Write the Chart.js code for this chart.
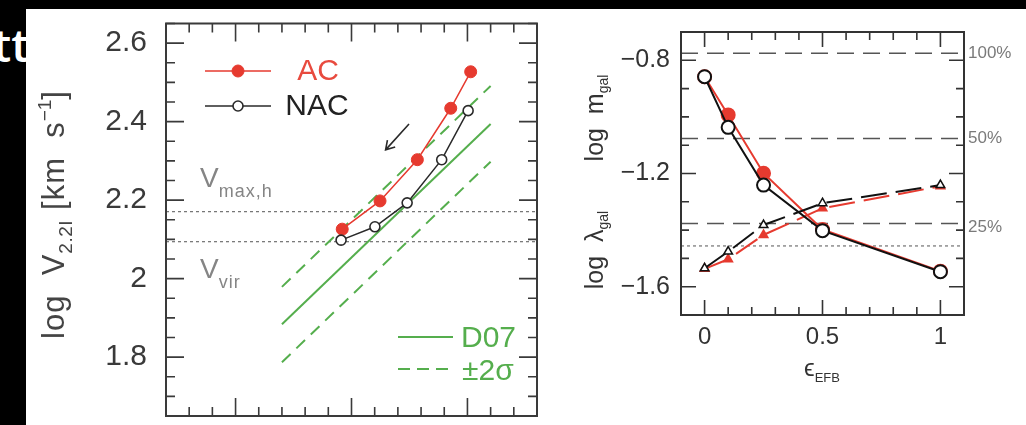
<!DOCTYPE html>
<html>
<head>
<meta charset="utf-8">
<script src="https://cdn.jsdelivr.net/npm/chart.js@4.4.1/dist/chart.umd.min.js"></script>
<style>
  html, body { margin: 0; padding: 0; background: #000; width: 1026px; height: 425px; overflow: hidden; }
  #sheet { position: absolute; left: 26px; top: 9px; width: 1000px; height: 416px; background: #fff; }
  #cut { position: absolute; left: -7px; top: 21px; font: 600 46px "Open Sans", sans-serif; color: #fff; line-height: 1; }
  #left { position: absolute; left: 0; top: 0; }
  #right { position: absolute; left: 560px; top: 0; }
</style>
</head>
<body>
<div id="sheet"></div>
<div id="cut">tt</div>
<canvas id="left" width="560" height="425"></canvas>
<canvas id="right" width="466" height="425"></canvas>
<script>
// ---------- left panel: log V2.2I against the galaxy axis ----------
const acX  = [10.460, 10.623, 10.784, 10.928, 11.014];
const acV  = [2.126, 2.198, 2.303, 2.434, 2.527];
const nacX = [10.455, 10.601, 10.740, 10.889, 11.003];
const nacV = [2.098, 2.132, 2.193, 2.303, 2.428];
const d07X   = [10.2, 11.1];
const d07V   = [1.884, 2.394];
const d07Hi  = [1.979, 2.491];
const d07Lo  = [1.787, 2.298];
const vMaxH = 2.1705;
const vVir  = 2.094;
const arrowX = [10.748, 10.647];
const arrowV = [2.394, 2.328];
const leftYTicks  = [1.8, 2.0, 2.2, 2.4, 2.6];
const leftYLabels = ['1.8', '2', '2.2', '2.4', '2.6'];

// ---------- right panel: galaxy mass / spin against feedback efficiency ----------
const eps     = [0, 0.1, 0.25, 0.5, 1];
const mGalAC  = [-0.858, -0.993, -1.199, -1.398, -1.545];
const mGalNAC = [-0.858, -1.037, -1.241, -1.402, -1.547];
const lamAC   = [-1.537, -1.503, -1.417, -1.323, -1.245];
const lamNAC  = [-1.535, -1.476, -1.382, -1.305, -1.241];
const fracLevels = [-0.775, -1.076, -1.377];
const fracLabels = ['100%', '50%', '25%'];
const dotLevel   = -1.456;
const rightXTicks  = [0, 0.5, 1];
const rightXLabels = ['0', '0.5', '1'];
const rightYTicks  = [-1.6, -1.2, -0.8];
const rightYLabels = ['\u22121.6', '\u22121.2', '\u22120.8'];

const RED = '#e63a2f', GREEN = '#55ae4d', INK = '#2a2a2a', GREY = '#858585';
const FONT = '"Liberation Sans", Arial, sans-serif';

const pts  = (xs, ys) => xs.map((x, i) => ({ x, y: ys[i] }));
const flat = (y, x0, x1) => [{ x: x0, y }, { x: x1, y }];

function tickSet(min, max, step) {
  const out = [];
  const k0 = Math.ceil(min / step - 1e-6), k1 = Math.floor(max / step + 1e-6);
  for (let k = k0; k <= k1; k++) out.push(+(k * step).toFixed(6));
  return out;
}
const isMajor = (v, step) => Math.abs(v / step - Math.round(v / step)) < 1e-6;

// text with sub/superscripts, optionally rotated
function drawRich(ctx, parts, x, y, align, rot, color) {
  ctx.save();
  ctx.translate(x, y);
  if (rot) ctx.rotate(rot);
  ctx.fillStyle = color;
  ctx.textBaseline = 'alphabetic';
  ctx.textAlign = 'left';
  let total = 0;
  const widths = parts.map(p => {
    ctx.font = `${p.size}px ${FONT}`;
    ctx.letterSpacing = (p.ls || 0) + 'px';
    const w = ctx.measureText(p.t).width + (p.gap || 0);
    total += w;
    return w;
  });
  let pos = align === 'center' ? -total / 2 : (align === 'right' ? -total : 0);
  parts.forEach((p, i) => {
    ctx.font = `${p.size}px ${FONT}`;
    ctx.letterSpacing = (p.ls || 0) + 'px';
    ctx.fillText(p.t, pos, p.dy || 0);
    pos += widths[i];
  });
  ctx.restore();
}

// closed frame with inward ticks on all four sides
const framePlugin = {
  id: 'frame',
  afterDatasetsDraw(chart, args, o) {
    const { ctx, chartArea: a, scales: { x, y } } = chart;
    ctx.save();
    ctx.strokeStyle = o.color;
    ctx.lineWidth = o.tickWidth;
    ctx.beginPath();
    tickSet(x.min, x.max, o.xMinor).forEach(v => {
      const p = x.getPixelForValue(v);
      const L = isMajor(v, o.xMajor) ? o.major : o.minor;
      ctx.moveTo(p, a.bottom); ctx.lineTo(p, a.bottom - L);
      ctx.moveTo(p, a.top);    ctx.lineTo(p, a.top + L);
    });
    tickSet(y.min, y.max, o.yMinor).forEach(v => {
      const p = y.getPixelForValue(v);
      const L = isMajor(v, o.yMajor) ? o.major : o.minor;
      ctx.moveTo(a.left, p);  ctx.lineTo(a.left + L, p);
      ctx.moveTo(a.right, p); ctx.lineTo(a.right - L, p);
    });
    ctx.stroke();
    ctx.lineWidth = o.width;
    ctx.strokeRect(a.left, a.top, a.right - a.left, a.bottom - a.top);
    ctx.restore();
  }
};

// rich-text annotations supplied per chart
const notesPlugin = {
  id: 'notes',
  afterDraw(chart, args, o) {
    (o.items || []).forEach(n => drawRich(chart.ctx, n.parts, n.x, n.y, n.align, n.rot, n.color));
  }
};

function zeroPad(s) { s.paddingLeft = s.paddingRight = s.paddingTop = s.paddingBottom = 0; }

// ================= left chart =================
const leftLegendPlugin = {
  id: 'leftLegend',
  afterDraw(chart) {
    const { ctx, scales: { x, y } } = chart;
    const ds = chart.data.datasets;
    ctx.save();
    // AC / NAC
    const rows = [
      { d: ds[1], y: 71, tx: 318 },
      { d: ds[0], y: 106, tx: 317 }
    ];
    rows.forEach(r => {
      ctx.strokeStyle = r.d.borderColor; ctx.lineWidth = 1.5;
      ctx.beginPath(); ctx.moveTo(205, r.y); ctx.lineTo(271, r.y); ctx.stroke();
      ctx.beginPath(); ctx.arc(238, r.y, r.d.pointRadius, 0, Math.PI * 2);
      ctx.fillStyle = r.d.pointBackgroundColor; ctx.fill();
      ctx.lineWidth = r.d.pointBorderWidth; ctx.strokeStyle = r.d.pointBorderColor; ctx.stroke();
      ctx.fillStyle = r.d.legendColor;
      ctx.font = `30px ${FONT}`; ctx.textAlign = 'center'; ctx.textBaseline = 'middle';
      ctx.fillText(r.d.label, r.tx, r.y + 1);
    });
    // D07 / ±2σ
    ctx.strokeStyle = GREEN; ctx.lineWidth = 2;
    ctx.beginPath(); ctx.moveTo(398, 337); ctx.lineTo(453, 337); ctx.stroke();
    ctx.setLineDash([12, 7]);
    ctx.beginPath(); ctx.moveTo(398, 369); ctx.lineTo(453, 369); ctx.stroke();
    ctx.setLineDash([]);
    ctx.fillStyle = GREEN; ctx.font = `30px ${FONT}`; ctx.textAlign = 'left'; ctx.textBaseline = 'alphabetic';
    ctx.fillText(ds[2].label, 461, 347);
    ctx.fillText(ds[3].label, 462, 380);
    // arrow
    const x0 = x.getPixelForValue(arrowX[0]), y0 = y.getPixelForValue(arrowV[0]);
    const x1 = x.getPixelForValue(arrowX[1]), y1 = y.getPixelForValue(arrowV[1]);
    const ang = Math.atan2(y1 - y0, x1 - x0), h = 10;
    ctx.strokeStyle = INK; ctx.lineWidth = 1.6;
    ctx.beginPath();
    ctx.moveTo(x0, y0); ctx.lineTo(x1, y1);
    ctx.moveTo(x1 - h * Math.cos(ang - 0.55), y1 - h * Math.sin(ang - 0.55));
    ctx.lineTo(x1, y1);
    ctx.lineTo(x1 - h * Math.cos(ang + 0.55), y1 - h * Math.sin(ang + 0.55));
    ctx.stroke();
    ctx.restore();
  }
};

new Chart(document.getElementById('left'), {
  type: 'scatter',
  data: {
    datasets: [
      { label: 'NAC', data: pts(nacX, nacV), showLine: true, borderColor: INK, borderWidth: 1.5,
        pointRadius: 5, pointBackgroundColor: '#fff', pointBorderColor: INK, pointBorderWidth: 1.6,
        legendColor: '#222', order: 1 },
      { label: 'AC', data: pts(acX, acV), showLine: true, borderColor: RED, borderWidth: 1.5,
        pointRadius: 6, pointBackgroundColor: RED, pointBorderColor: RED, pointBorderWidth: 1,
        legendColor: '#e84a3e', order: 2 },
      { label: 'D07', data: pts(d07X, d07V), showLine: true, borderColor: GREEN, borderWidth: 2,
        pointRadius: 0, order: 3 },
      { label: '\u00b12\u03c3', data: pts(d07X, d07Hi), showLine: true, borderColor: GREEN, borderWidth: 2,
        borderDash: [12, 8], pointRadius: 0, order: 3 },
      { label: '\u22122\u03c3', data: pts(d07X, d07Lo), showLine: true, borderColor: GREEN, borderWidth: 2,
        borderDash: [12, 8], pointRadius: 0, order: 3 },
      { label: 'Vmax,h', data: flat(vMaxH, 9.7, 11.3), showLine: true, borderColor: '#555', borderWidth: 1,
        borderDash: [3, 3], pointRadius: 0, order: 4 },
      { label: 'Vvir', data: flat(vVir, 9.7, 11.3), showLine: true, borderColor: '#555', borderWidth: 1,
        borderDash: [3, 3], pointRadius: 0, order: 4 }
    ]
  },
  options: {
    responsive: false, animation: false, events: [],
    layout: { padding: { left: 0, top: 23.5, right: 23, bottom: 0 } },
    scales: {
      x: { type: 'linear', min: 9.7, max: 11.3,
           ticks: { display: false }, grid: { display: false, drawTicks: false }, border: { display: false },
           afterFit(s) { s.height = 9; zeroPad(s); } },
      y: { type: 'linear', min: 1.65, max: 2.65,
           afterBuildTicks(s) { s.ticks = leftYTicks.map(v => ({ value: v })); },
           ticks: { callback: (v, i) => leftYLabels[i], font: { family: FONT, size: 30 }, color: '#3a3a3a', padding: 19 },
           grid: { display: false, drawTicks: false }, border: { display: false },
           afterFit(s) { s.width = 166; zeroPad(s); } }
    },
    plugins: {
      legend: { display: false }, tooltip: { enabled: false },
      frame: { color: '#3a3a3a', width: 2, tickWidth: 1.6, major: 18, minor: 9,
               xMinor: 0.1, xMajor: 0.5, yMinor: 0.05, yMajor: 0.2 },
      notes: { items: [
        { parts: [ { t: 'log  V', size: 31, ls: 1 }, { t: '2.2I', size: 19, dy: 8, gap: 10, ls: 0.5 },
                   { t: '[km  s', size: 31, ls: 1 }, { t: '\u22121', size: 19, dy: -13 }, { t: ']', size: 31 } ],
          x: 64, y: 215, align: 'center', rot: -Math.PI / 2, color: '#444' },
        { parts: [ { t: 'V', size: 28 }, { t: 'max,h', size: 18, dy: 10, ls: 1 } ],
          x: 200, y: 187, align: 'left', color: GREY },
        { parts: [ { t: 'V', size: 28 }, { t: 'vir', size: 18, dy: 10, ls: 1 } ],
          x: 200, y: 278, align: 'left', color: GREY }
      ] }
    }
  },
  plugins: [framePlugin, notesPlugin, leftLegendPlugin]
});

// ================= right chart =================
const fracLabelPlugin = {
  id: 'fracLabels',
  afterDraw(chart) {
    const { ctx, scales: { y } } = chart;
    ctx.save();
    ctx.fillStyle = '#7a7a7a';
    ctx.font = `17px ${FONT}`;
    ctx.textAlign = 'left';
    ctx.textBaseline = 'middle';
    const nudge = [0, 0, 4];
    fracLevels.forEach((v, i) => ctx.fillText(fracLabels[i], 408, y.getPixelForValue(v) + nudge[i]));
    ctx.restore();
  }
};

const LONG = [26, 9];
new Chart(document.getElementById('right'), {
  type: 'scatter',
  data: {
    datasets: [
      { label: 'm_gal NAC', data: pts(eps, mGalNAC), showLine: true, borderColor: '#111', borderWidth: 2,
        pointRadius: 6.5, pointBackgroundColor: '#fff', pointBorderColor: '#111', pointBorderWidth: 2, order: 1 },
      { label: 'm_gal AC', data: pts(eps, mGalAC), showLine: true, borderColor: RED, borderWidth: 2,
        pointRadius: 6.5, pointBackgroundColor: RED, pointBorderColor: RED, order: 3 },
      { label: 'lambda NAC', data: pts(eps, lamNAC), showLine: true, borderColor: '#111', borderWidth: 2,
        borderDash: LONG, pointStyle: 'triangle', pointRadius: 5, pointBackgroundColor: '#fff',
        pointBorderColor: '#111', pointBorderWidth: 1.5, order: 2 },
      { label: 'lambda AC', data: pts(eps, lamAC), showLine: true, borderColor: RED, borderWidth: 2,
        borderDash: LONG, pointStyle: 'triangle', pointRadius: 4.5, pointBackgroundColor: RED,
        pointBorderColor: RED, order: 4 },
      ...fracLevels.map((v, i) => ({ label: fracLabels[i], data: flat(v, -0.1, 1.1), showLine: true,
        borderColor: '#555', borderWidth: 1.5, borderDash: [17, 9], pointRadius: 0, order: 6 })),
      { label: 'floor', data: flat(dotLevel, -0.1, 1.1), showLine: true, borderColor: '#555', borderWidth: 1,
        borderDash: [3, 3], pointRadius: 0, order: 6 }
    ]
  },
  options: {
    responsive: false, animation: false, events: [],
    layout: { padding: { left: 0, top: 32, right: 62, bottom: 0 } },
    scales: {
      x: { type: 'linear', min: -0.1, max: 1.1,
           afterBuildTicks(s) { s.ticks = rightXTicks.map(v => ({ value: v })); },
           ticks: { callback: (v, i) => rightXLabels[i], font: { family: FONT, size: 24 }, color: '#333', padding: 8 },
           grid: { display: false, drawTicks: false }, border: { display: false },
           afterFit(s) { s.height = 110; zeroPad(s); } },
      y: { type: 'linear', min: -1.7, max: -0.7,
           afterBuildTicks(s) { s.ticks = rightYTicks.map(v => ({ value: v })); },
           ticks: { callback: (v, i) => rightYLabels[i], font: { family: FONT, size: 25 }, color: '#333', padding: 11 },
           grid: { display: false, drawTicks: false }, border: { display: false },
           afterFit(s) { s.width = 121; zeroPad(s); } }
    },
    plugins: {
      legend: { display: false }, tooltip: { enabled: false },
      frame: { color: '#333', width: 2, tickWidth: 1.6, major: 15, minor: 8,
               xMinor: 0.1, xMajor: 0.5, yMinor: 0.1, yMajor: 0.4 },
      notes: { items: [
        { parts: [ { t: 'log  \u03bb', size: 25 }, { t: 'gal', size: 14, dy: 5 } ],
          x: 43, y: 250, align: 'center', rot: -Math.PI / 2, color: '#333' },
        { parts: [ { t: 'log  m', size: 25 }, { t: 'gal', size: 14, dy: 5 } ],
          x: 43, y: 118, align: 'center', rot: -Math.PI / 2, color: '#333' },
        { parts: [ { t: '\u03f5', size: 24 }, { t: 'EFB', size: 13, dy: 6 } ],
          x: 262, y: 376, align: 'center', color: '#333' }
      ] }
    }
  },
  plugins: [framePlugin, notesPlugin, fracLabelPlugin]
});
</script>
</body>
</html>
